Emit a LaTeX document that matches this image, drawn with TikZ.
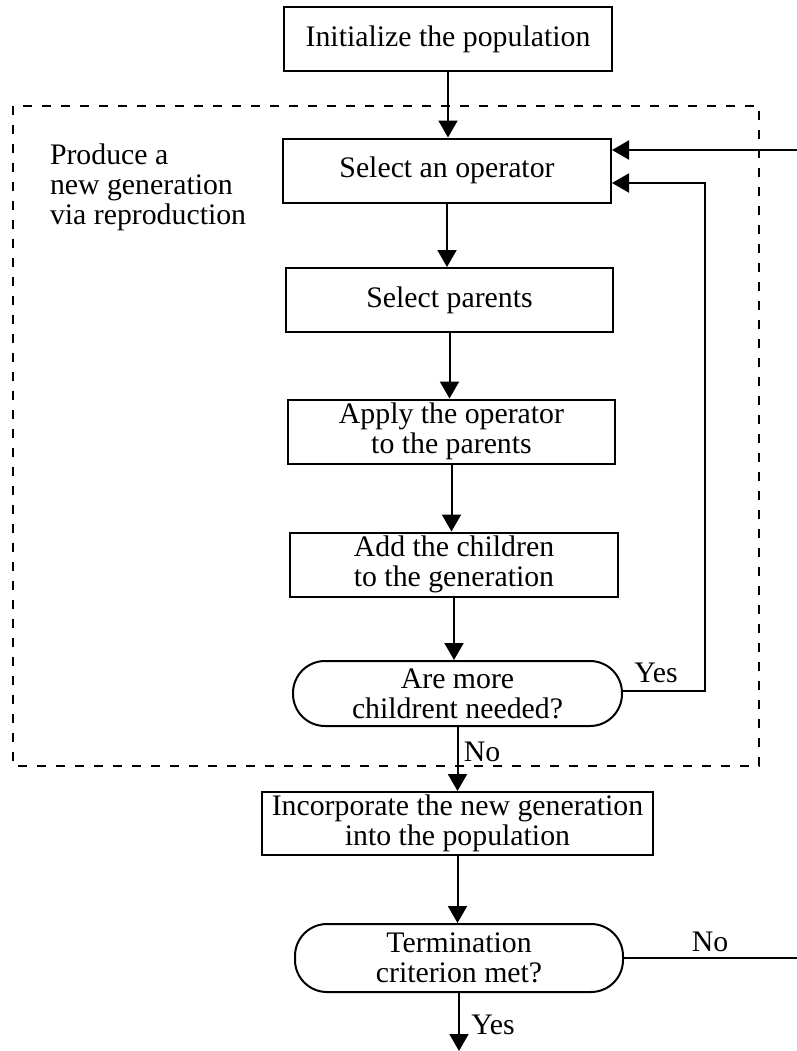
\documentclass[tikz,border=0pt]{standalone}
\usepackage{fontspec}
\setmainfont{Liberation Serif}
\usetikzlibrary{arrows.meta}

\begin{document}
\begin{tikzpicture}[x=0.5pt,y=-0.5pt,line width=1pt,
        >={Triangle[length=8.5pt,width=9.5pt]},
        every node/.style={font=\fontsize{14.9}{15}\selectfont,inner sep=0pt,align=center},
        box/.style={draw,rectangle,minimum height=32pt},
        roundbox/.style={draw,rectangle,rounded corners=16pt,minimum height=32.5pt}]
    \useasboundingbox (0,0) rectangle (797,1051);

    \node[box,minimum width=164pt]   (init)    at (448, 39)   {Initialize the population};
    \node[box,minimum width=164pt]   (selop)   at (447,170.5) {Select an operator};
    \node[box,minimum width=163.5pt] (parents) at (449.5,300) {Select parents};
    \node[box,minimum width=163.5pt] (apply)   at (451.5,431.5) {Apply the operator\\to the parents};
    \node[box,minimum width=164pt]   (addkids) at (454,564.5) {Add the children\\to the generation};
    \node[roundbox,minimum width=164.5pt] (more) at (457.5,693.5) {Are more\\childrent needed?};
    \node[box,minimum width=195.5pt,minimum height=31.5pt] (incorp) at (457.5,823.5) {Incorporate the new generation\\into the population};
    \node[roundbox,minimum width=164pt,minimum height=34pt] (term) at (459,958) {Termination\\criterion met?};

    % the reproduction loop
    \draw[dash pattern=on 4.5pt off 5pt] (13,106) rectangle (759,766);
    \node[anchor=north west,align=left] (prod) at (49,143) {Produce a\\new generation\\via reproduction};

    \coordinate (inR)  at (797,150);
    \coordinate (yesR) at (705,691);
    \coordinate (noR)  at (797,958);
    \coordinate (out)  at (459,1051);

    \draw[->] (init) -- (init.south |- selop.north);
    \draw[->] (selop) -- (selop.south |- parents.north);
    \draw[->] (parents) -- (parents.south |- apply.north);
    \draw[->] (apply) -- (apply.south |- addkids.north);
    \draw[->] (addkids) -- (addkids.south |- more.north);
    \draw[->] (more) -- (more.south |- incorp.north);
    \draw[->] (incorp) -- (incorp.south |- term.north);
    \draw[->] (term) -- (term.south |- out);

    \draw[->] (inR) -- (inR -| selop.east);
    \draw[->] (more.east |- yesR) -- (yesR) -- (yesR |- 0,183) -- (selop.east |- 0,183);
    \draw (term.east |- noR) -- (noR);

    \node (yes1) at (656,673)  {Yes};
    \node (no1)  at (482,752)  {No};
    \node (no2)  at (710,942)  {No};
    \node (yes2) at (493,1025) {Yes};

\end{tikzpicture}
\end{document}
